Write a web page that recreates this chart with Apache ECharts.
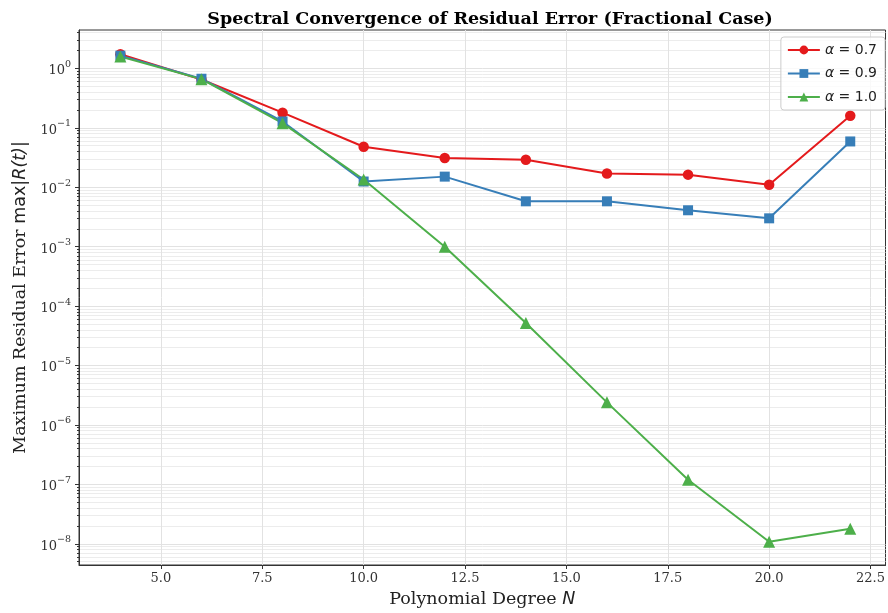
<!DOCTYPE html>
<html>
<head>
<meta charset="utf-8">
<script src="https://cdn.jsdelivr.net/npm/echarts@6/dist/echarts.min.js"></script>
<style>
  html, body { margin: 0; padding: 0; background: #fff; }
  #chart { width: 888px; height: 613px; }
</style>
</head>
<body>
<div id="chart"></div>
<script>
// data
const degrees = [4, 6, 8, 10, 12, 14, 16, 18, 20, 22];
const alpha07 = [1.73, 0.65, 0.18, 0.048, 0.031, 0.029, 0.017, 0.0163, 0.011, 0.16];
const alpha09 = [1.64, 0.67, 0.128, 0.0125, 0.0151, 0.0058, 0.0058, 0.0041, 0.003, 0.059];
const alpha10 = [1.58, 0.66, 0.12, 0.0135, 0.001, 5.2e-5, 2.4e-6, 1.2e-7, 1.08e-8, 1.8e-8];

const xTicks = [5.0, 7.5, 10.0, 12.5, 15.0, 17.5, 20.0, 22.5];
const yExponents = [-8, -7, -6, -5, -4, -3, -2, -1, 0];
const yMin = 4.4e-9, yMax = 4.43;

const yMajor = yExponents.map(e => Math.pow(10, e));
const yMinor = [];
for (let e = -9; e <= 0; e++) {
    for (let m = 2; m <= 9; m++) {
        const v = m * Math.pow(10, e);
        if (v >= yMin && v <= yMax) yMinor.push(v);
    }
}

const serif = '"DejaVu Serif", serif';
const sans = '"DejaVu Sans", sans-serif';
const colors = ['#e41a1c', '#377eb8', '#4daf4a'];

function pairs(ys) {
    return degrees.map((x, i) => [x, ys[i]]);
}

const chart = echarts.init(document.getElementById('chart'));

const option = {
    animation: false,
    title: {
        text: 'Spectral Convergence of Residual Error (Fractional Case)',
        left: 485, textAlign: 'center', top: 5,
        textStyle: { fontFamily: serif, fontWeight: 'bold', fontSize: 17.5, color: '#000' }
    },
    grid: {
        left: 79, top: 30, right: 1, bottom: 46,
        show: true, borderColor: '#333', borderWidth: 1, backgroundColor: 'transparent'
    },
    legend: {
        right: 3, top: 37, orient: 'vertical',
        itemWidth: 32, itemHeight: 11, itemGap: 9.5,
        padding: [6, 8, 6, 6],
        borderColor: '#ccc', borderWidth: 1, borderRadius: 3, backgroundColor: 'rgba(255,255,255,0.8)',
        textStyle: {
            fontFamily: sans, fontSize: 14, color: '#222',
            rich: { i: { fontFamily: sans, fontStyle: 'italic', fontSize: 14, color: '#222' } }
        },
        formatter: function (name) {
            return '{i|α} = ' + name.split('=')[1];
        }
    },
    xAxis: {
        type: 'value', min: 2.98, max: 22.87,
        name: 'Polynomial Degree {i|N}', nameLocation: 'middle', nameGap: 25,
        nameTextStyle: {
            fontFamily: serif, fontSize: 17.5, color: '#222',
            rich: { i: { fontFamily: sans, fontStyle: 'italic', fontSize: 17.5, color: '#222' } }
        },
        axisLine: { show: true, lineStyle: { color: '#333', width: 1 } },
        axisTick: { show: true, length: 4, customValues: xTicks, lineStyle: { color: '#333' } },
        axisLabel: {
            customValues: xTicks, margin: 7,
            fontFamily: serif, fontSize: 13, color: '#333',
            formatter: v => v.toFixed(1)
        },
        splitLine: { show: true, lineStyle: { color: '#e2e2e2', width: 1 } }
    },
    yAxis: [{
        type: 'log', logBase: 10, min: yMin, max: yMax,
        name: 'Maximum Residual Error {m|max}{i||R(t)|}', nameLocation: 'middle', nameGap: 46,
        nameTextStyle: {
            fontFamily: serif, fontSize: 17.5, color: '#222',
            rich: {
                m: { fontFamily: sans, fontSize: 17.5, color: '#222' },
                i: { fontFamily: sans, fontStyle: 'italic', fontSize: 17.5, color: '#222' }
            }
        },
        axisLine: { show: true, lineStyle: { color: '#333', width: 1 } },
        axisTick: { show: true, length: 4, customValues: yMajor, lineStyle: { color: '#333' } },
        axisLabel: {
            customValues: yMajor, margin: 8,
            fontFamily: serif, fontSize: 13, color: '#333',
            formatter: function (v) {
                const e = Math.round(Math.log10(v));
                return '{b|10}{s|' + (e < 0 ? '−' + (-e) : e) + '}';
            },
            rich: {
                b: { fontFamily: serif, fontSize: 13, color: '#333', padding: [5, 0, 0, 0] },
                s: { fontFamily: serif, fontSize: 9.5, color: '#333', verticalAlign: 'top', padding: [0, 0, 5, 0] }
            }
        },
        splitLine: { show: true, lineStyle: { color: '#e2e2e2', width: 1 } }
    }, {
        type: 'log', logBase: 10, min: yMin, max: yMax, position: 'left',
        axisLine: { show: false },
        axisTick: { show: true, length: 2, customValues: yMinor, lineStyle: { color: '#333' } },
        axisLabel: { show: false, customValues: yMinor },
        splitLine: { show: true, lineStyle: { color: '#ececec', width: 1 } }
    }],
    series: [
        {
            name: 'alpha=0.7', type: 'line', data: pairs(alpha07),
            symbol: 'circle', symbolSize: 10.5, color: colors[0],
            lineStyle: { width: 2 }, itemStyle: { color: colors[0] }
        },
        {
            name: 'alpha=0.9', type: 'line', data: pairs(alpha09),
            symbol: 'rect', symbolSize: 10, color: colors[1],
            lineStyle: { width: 2 }, itemStyle: { color: colors[1] }
        },
        {
            name: 'alpha=1.0', type: 'line', data: pairs(alpha10),
            symbol: 'triangle', symbolSize: 12, color: colors[2],
            lineStyle: { width: 2 }, itemStyle: { color: colors[2] }
        }
    ]
};

chart.setOption(option);
</script>
</body>
</html>
